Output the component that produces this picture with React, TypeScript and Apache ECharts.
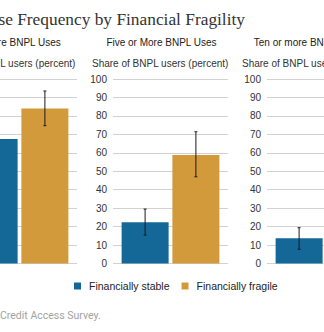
import React, { useEffect, useRef } from "react";
import * as echarts from "echarts";

const panelTitles = ["One or More BNPL Uses", "Five or More BNPL Uses", "Ten or more BNPL Uses"];
const axisTitle = "Share of BNPL users (percent)";
const seriesNames = ["Financially stable", "Financially fragile"];
const stableValues = [67.5, 22.3, 13.7];
const fragileValues = [84.0, 58.8, 40.0];
const stableLow = [61.0, 15.4, 7.7];
const stableHigh = [74.0, 29.5, 19.4];
const fragileLow = [74.7, 47.0, 30.0];
const fragileHigh = [93.5, 71.4, 50.0];
const yTicks = { min: 0, max: 100, interval: 10 };
const chartTitle = "BNPL Use Frequency by Financial Fragility";
const sourceText = "Credit Access Survey.";

const BLUE = "#146898";
const ORANGE = "#d39a3c";
const OFF = 160;
const gridLefts = [122, 273, 427];
const subtitleCenters = [165.7, 321.5, 467.5];
const axisNameLefts = [99, 252, 402];
const BAR_W = 47;
const BAR_OFFSET = 25.4;

export default function App() {
  const ref = useRef<HTMLDivElement>(null);
  useEffect(() => {
    if (!ref.current) return;
    const chart = echarts.init(ref.current, null, { renderer: "svg" });
    const grids: any[] = [];
    const xAxes: any[] = [];
    const yAxes: any[] = [];
    const series: any[] = [];
    const font = "Arial, 'Liberation Sans', sans-serif";
    panelTitles.forEach((p, i) => {
      grids.push({ left: gridLefts[i], top: 79, width: 115, height: 184.5 });
      xAxes.push({
        type: "category",
        gridIndex: i,
        data: [p],
        axisLine: { show: false },
        axisTick: { show: false },
        axisLabel: { show: false },
      });
      yAxes.push({
        type: "value",
        gridIndex: i,
        min: yTicks.min,
        max: yTicks.max,
        interval: yTicks.interval,
        axisLine: { show: false },
        axisTick: { show: false },
        axisLabel: { fontSize: 10, color: "#333", margin: 6, fontFamily: font },
        splitLine: { lineStyle: { color: "#d2d2d2", width: 1 } },
      });
      series.push({
        type: "bar",
        name: seriesNames[0],
        xAxisIndex: i,
        yAxisIndex: i,
        data: [stableValues[i]],
        barWidth: BAR_W,
        barGap: "8%",
        itemStyle: { color: BLUE },
      });
      series.push({
        type: "bar",
        name: seriesNames[1],
        xAxisIndex: i,
        yAxisIndex: i,
        data: [fragileValues[i]],
        barWidth: BAR_W,
        barGap: "8%",
        itemStyle: { color: ORANGE },
      });
      const errData = [
        [0, stableLow[i], stableHigh[i], -1],
        [0, fragileLow[i], fragileHigh[i], 1],
      ];
      series.push({
        type: "custom",
        xAxisIndex: i,
        yAxisIndex: i,
        data: errData,
        z: 10,
        renderItem: (params: any, api: any) => {
          const side = api.value(3);
          const lo = api.coord([api.value(0), api.value(1)]);
          const hi = api.coord([api.value(0), api.value(2)]);
          const x = lo[0] + side * BAR_OFFSET;
          const st = { stroke: "#1a1a1a", lineWidth: 1 };
          return {
            type: "group",
            children: [
              { type: "line", shape: { x1: x, y1: lo[1], x2: x, y2: hi[1] }, style: st },
              { type: "line", shape: { x1: x - 1.5, y1: lo[1], x2: x + 1.5, y2: lo[1] }, style: st },
              { type: "line", shape: { x1: x - 1.5, y1: hi[1], x2: x + 1.5, y2: hi[1] }, style: st },
            ],
          };
        },
      });
    });

    const graphics: any[] = [
      {
        type: "text",
        x: 245 + OFF,
        y: 19,
        style: {
          text: chartTitle,
          font: "17.35px 'Liberation Serif', serif",
          fill: "#333",
          textAlign: "right",
          textVerticalAlign: "middle",
          align: "right",
          verticalAlign: "middle",
        },
      },
      {
        type: "text",
        x: OFF,
        y: 315,
        style: {
          text: sourceText,
          font: "10.5px Roboto, sans-serif",
          fill: "#a3a3a3",
          textAlign: "left",
          textVerticalAlign: "middle",
          align: "left",
          verticalAlign: "middle",
        },
      },
    ];
    panelTitles.forEach((p, i) => {
      graphics.push({
        type: "text",
        x: subtitleCenters[i],
        y: 42,
        style: {
          text: p,
          font: "10px Arial, 'Liberation Sans', sans-serif",
          fill: "#222",
          textAlign: "center",
          textVerticalAlign: "middle",
          align: "center",
          verticalAlign: "middle",
        },
      });
      graphics.push({
        type: "text",
        x: axisNameLefts[i],
        y: 63,
        style: {
          text: axisTitle,
          font: "10px Arial, 'Liberation Sans', sans-serif",
          fill: "#333",
          textAlign: "left",
          textVerticalAlign: "middle",
          align: "left",
          verticalAlign: "middle",
        },
      });
    });

    chart.setOption({
      animation: false,
      backgroundColor: "#fff",
      grid: grids,
      xAxis: xAxes,
      yAxis: yAxes,
      series,
      legend: {
        data: seriesNames,
        left: 74 + OFF,
        top: 280.5,
        padding: 0,
        itemWidth: 7,
        itemHeight: 7,
        itemGap: 12,
        icon: "rect",
        textStyle: { fontSize: 10.5, color: "#222", fontFamily: font, padding: [0, 0, 0, 3] },
      },
      graphic: graphics,
    });
    return () => chart.dispose();
  }, []);
  return (
    <div style={{ position: "fixed", left: 0, top: 0, width: 324, height: 332, overflow: "hidden", background: "#fff" }}>
      <div ref={ref} style={{ position: "absolute", left: -OFF, top: 0, width: 600, height: 332 }} />
    </div>
  );
}
